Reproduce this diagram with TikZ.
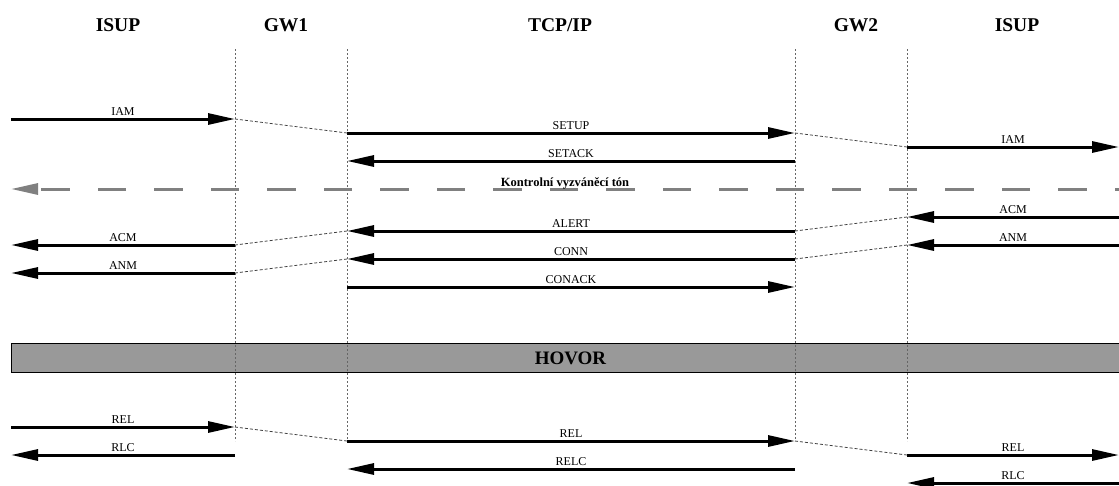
\documentclass[tikz,border=0pt]{standalone}
\usepackage{fontspec}
\setmainfont{Liberation Serif}
\usetikzlibrary{arrows.meta, positioning}
\definecolor{hovor-gray}{HTML}{999999}
\definecolor{tone-gray}{HTML}{808080}

\begin{document}
\begin{tikzpicture}[x=1pt, y=-1pt,
    head/.style={font=\fontsize{19.5}{22}\selectfont\bfseries, anchor=base},
    msg/.style={line width=3pt, -{Triangle[length=27pt,width=11pt]}},
    lbl/.style={midway, anchor=base, yshift=3.5pt, inner sep=0pt, font=\fontsize{12}{14}\selectfont},
    life/.style={black!60, line width=0.9pt, dash pattern=on 2pt off 2pt},
    hop/.style={black!75, line width=0.8pt, dash pattern=on 3pt off 2pt}]
  \useasboundingbox (0,0) rectangle (1119,485);

  % headers
  \node[head] (isup1) at (118,31) {ISUP};
  \node[head] (gw1) at (286,31) {GW1};
  \node[head] (tcpip) at (560,31) {TCP/IP};
  \node[head] (gw2) at (856,31) {GW2};
  \node[head] (isup2) at (1017,31) {ISUP};

  % call in progress
  \node[draw, line width=1pt, fill=hovor-gray, anchor=north west, inner sep=0pt,
        minimum width=1108pt, minimum height=29pt] (hovor) at (11,343) {};
  \node[font=\fontsize{19}{21}\selectfont\bfseries] (hovor-txt) at ([xshift=5pt]hovor.center) {HOVOR};

  % lifelines
  \foreach \n/\x in {gw1a/235, gw1b/347, gw2a/795, gw2b/907} {
    \coordinate (\n-top) at (\x,49);
    \coordinate (\n-bot) at (\x,441);
    \draw[life] (\n-top) -- (\n-bot);
  }

  % ringing tone
  \coordinate (tone-s) at (1119,189);
  \coordinate (tone-e) at (11,189);
  \draw[tone-gray, line width=3pt, dash pattern=on 28.5pt off 28pt, dash phase=24pt,
        -{Triangle[length=27pt,width=11pt]}] (tone-s) -- (tone-e)
    node[midway, anchor=base, yshift=3pt, inner sep=0pt, text=black,
         font=\fontsize{12.5}{14}\selectfont\bfseries] (tone) {Kontrolní vyzváněcí tón};

  % messages
  \foreach \n/\xa/\xb/\y/\t in {
      iam1/11/235/119/IAM, setup/347/795/133/SETUP, iam2/907/1119/147/IAM,
      setack/795/347/161/SETACK, acm2/1119/907/217/ACM, alert/795/347/231/ALERT,
      anm2/1119/907/245/ANM, conn/795/347/259/CONN, acm1/235/11/245/ACM,
      anm1/235/11/273/ANM, conack/347/795/287/CONACK,
      rel1/11/235/427/REL, rel2/347/795/441/REL, rel3/907/1119/455/REL,
      rlc1/235/11/455/RLC, relc/795/347/469/RELC, rlc2/1119/907/483/RLC} {
    \coordinate (\n-s) at (\xa,\y);
    \coordinate (\n-e) at (\xb,\y);
    \draw[msg] (\n-s) -- (\n-e) node[lbl] {\t};
  }

  % gateway hand-overs
  \draw[hop] (iam1-e) -- (setup-s);
  \draw[hop] (setup-e) -- (iam2-s);
  \draw[hop] (acm2-e) -- (alert-s);
  \draw[hop] (anm2-e) -- (conn-s);
  \draw[hop] (alert-e) -- (acm1-s);
  \draw[hop] (conn-e) -- (anm1-s);
  \draw[hop] (rel1-e) -- (rel2-s);
  \draw[hop] (rel2-e) -- (rel3-s);
\end{tikzpicture}
\end{document}
